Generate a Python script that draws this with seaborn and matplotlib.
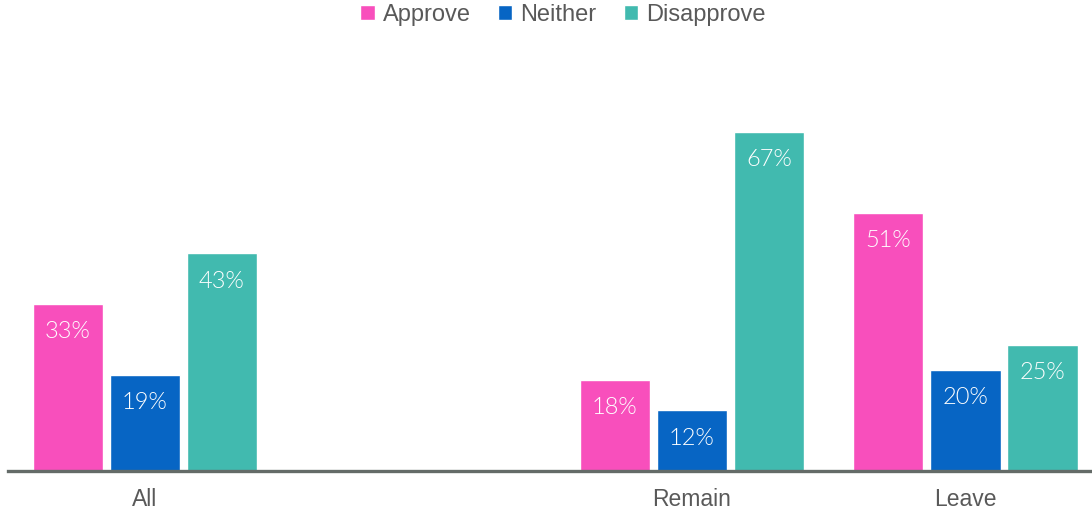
import matplotlib
matplotlib.use("Agg")
import matplotlib.pyplot as plt
import seaborn as sns
import pandas as pd

# Survey results by group (percent)
groups = ["All", "Remain", "Leave"]
responses = ["Approve", "Neither", "Disapprove"]
approve = [33, 18, 51]
neither = [19, 12, 20]
disapprove = [43, 67, 25]

# Category axis order, with a blank slot separating the overall figure from the sub-groups
order = ["All", " ", "Remain", "Leave"]
palette = {"Approve": "#F84FBC", "Neither": "#0765C4", "Disapprove": "#41BAAF"}

rows = []
for resp, vals in zip(responses, [approve, neither, disapprove]):
    for g, v in zip(groups, vals):
        rows.append({"group": g, "response": resp, "value": v})
df = pd.DataFrame(rows)

sns.set_theme(style="white")
plt.rcParams["font.family"] = ["Liberation Sans", "DejaVu Sans"]

fig = plt.figure(figsize=(10.92, 5.15), dpi=100)
ax = fig.add_axes([8 / 1092, (515 - 471) / 515, (1092 - 8) / 1092, (471 - 40) / 515])

sns.barplot(data=df, x="group", y="value", hue="response", order=order,
            hue_order=responses, palette=palette, width=0.845, gap=0.09,
            saturation=1, ax=ax, legend=True)

ax.set_xlim(-0.5, (1092 - 145) / 273.5 - 0.0)
ax.set_ylim(0, (471 - 40) / 5.06)

# Value labels inside the top of each bar
label_font = dict(family=["Lato", "DejaVu Sans"], fontweight=300, fontsize=17, color="white")
for container in ax.containers:
    for bar in container:
        h = bar.get_height()
        if h != h or h == 0:
            continue
        ax.annotate(f"{h:.0f}%", (bar.get_x() + bar.get_width() / 2, h),
                    xytext=(0, -20), textcoords="offset points",
                    ha="center", va="center", **label_font)

for s in ["top", "right", "left"]:
    ax.spines[s].set_visible(False)
ax.spines["bottom"].set_color("#646B68")
ax.spines["bottom"].set_linewidth(2.4)
ax.set_yticks([])
ax.set_xlabel("")
ax.set_ylabel("")
ax.tick_params(axis="x", length=0, pad=12, labelsize=16.5, labelcolor="#595959")

handles, labels = ax.get_legend_handles_labels()
ax.legend(handles, labels, loc="center", bbox_to_anchor=(563 / 1092, 1 - 15 / 515),
          bbox_transform=fig.transFigure, ncol=3, frameon=False,
          fontsize=17, labelcolor="#595959", handlelength=0.6, handleheight=0.6,
          handletextpad=0.35, columnspacing=1.15)

fig.savefig("out.png", dpi=100)
